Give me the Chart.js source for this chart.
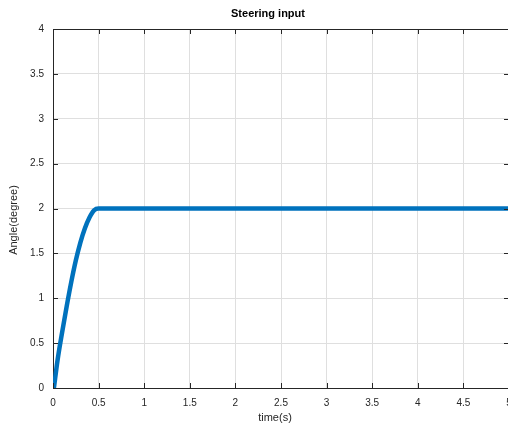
<!DOCTYPE html>
<html>
<head>
<meta charset="utf-8">
<script src="https://cdn.jsdelivr.net/npm/chart.js@4"></script>
<style>
  html, body { margin: 0; padding: 0; background: #fff; overflow: hidden; }
  #wrap { width: 536px; height: 428px; }
</style>
</head>
<body>
<div id="wrap"><canvas id="steerChart" width="536" height="428"></canvas></div>
<script>
// steering angle (degrees vs seconds)
const timeValues  = [0.01, 0.05, 0.1, 0.15, 0.2, 0.25, 0.3, 0.35, 0.4, 0.45, 0.5, 5];
const angleValues = [0, 0.31, 0.62, 0.91, 1.18, 1.42, 1.62, 1.78, 1.9, 1.98, 2.0, 2.0];
const xTickValues = [0, 0.5, 1, 1.5, 2, 2.5, 3, 3.5, 4, 4.5, 5];
const yTickValues = [0, 0.5, 1, 1.5, 2, 2.5, 3, 3.5, 4];
const titleText = 'Steering input';
const xLabel = 'time(s)';
const yLabel = 'Angle(degree)';

const axisColor = '#262626';
const gridColor = '#dfdfdf';
const fontFamily = '"Liberation Sans", Arial, sans-serif';

// MATLAB style box: top/right edges, inward tick marks, title and axis labels
const matlabBox = {
    id: 'matlabBox',
    afterDraw(chart) {
        const ctx = chart.ctx;
        const a = chart.chartArea;
        const xs = chart.scales.x, ys = chart.scales.y;
        const len = 5;
        ctx.save();
        ctx.strokeStyle = axisColor;
        ctx.lineWidth = 1;
        ctx.beginPath();
        ctx.moveTo(a.left, a.top + 0.5);
        ctx.lineTo(a.right, a.top + 0.5);
        ctx.moveTo(a.right - 0.5, a.top);
        ctx.lineTo(a.right - 0.5, a.bottom);
        xTickValues.forEach(v => {
            const px = Math.round(xs.getPixelForValue(v)) + 0.5;
            ctx.moveTo(px, a.bottom); ctx.lineTo(px, a.bottom - len);
            ctx.moveTo(px, a.top); ctx.lineTo(px, a.top + len);
        });
        yTickValues.forEach(v => {
            const py = Math.round(ys.getPixelForValue(v)) + 0.5;
            ctx.moveTo(a.left, py); ctx.lineTo(a.left + len, py);
            ctx.moveTo(a.right, py); ctx.lineTo(a.right - len, py);
        });
        ctx.stroke();

        ctx.textAlign = 'center';
        ctx.textBaseline = 'middle';
        ctx.fillStyle = '#000';
        ctx.font = 'bold 11px ' + fontFamily;
        ctx.fillText(titleText, 268, 14);

        ctx.fillStyle = axisColor;
        ctx.font = '11px ' + fontFamily;
        ctx.fillText(xLabel, 275, 418);

        ctx.translate(14, 220);
        ctx.rotate(-Math.PI / 2);
        ctx.fillText(yLabel, 0, 0);
        ctx.restore();
    }
};

const ctx = document.getElementById('steerChart').getContext('2d');
new Chart(ctx, {
    type: 'line',
    data: {
        datasets: [{
            data: timeValues.map((t, i) => ({ x: t, y: angleValues[i] })),
            borderColor: '#0072bd',
            borderWidth: 4.5,
            pointRadius: 0,
            fill: false,
            cubicInterpolationMode: 'monotone',
            borderCapStyle: 'round'
        }]
    },
    options: {
        responsive: false,
        animation: false,
        layout: { padding: { left: 0, right: 27, top: 29, bottom: 0 } },
        plugins: {
            legend: { display: false },
            tooltip: { enabled: false },
            title: { display: false }
        },
        scales: {
            x: {
                type: 'linear',
                min: 0, max: 5,
                afterBuildTicks: s => { s.ticks = xTickValues.map(v => ({ value: v })); },
                afterFit: s => { s.height = 40; },
                ticks: {
                    color: axisColor,
                    font: { family: fontFamily, size: 10 },
                    padding: 9,
                    maxRotation: 0,
                    callback: v => String(v)
                },
                grid: { color: gridColor, drawTicks: false },
                border: { color: axisColor, width: 1 }
            },
            y: {
                min: 0, max: 4,
                afterBuildTicks: s => { s.ticks = yTickValues.map(v => ({ value: v })); },
                afterFit: s => { s.width = 53; },
                ticks: {
                    color: axisColor,
                    font: { family: fontFamily, size: 10 },
                    padding: 9,
                    callback: v => String(v)
                },
                grid: { color: gridColor, drawTicks: false },
                border: { color: axisColor, width: 1 }
            }
        }
    },
    plugins: [matlabBox]
});
</script>
</body>
</html>
